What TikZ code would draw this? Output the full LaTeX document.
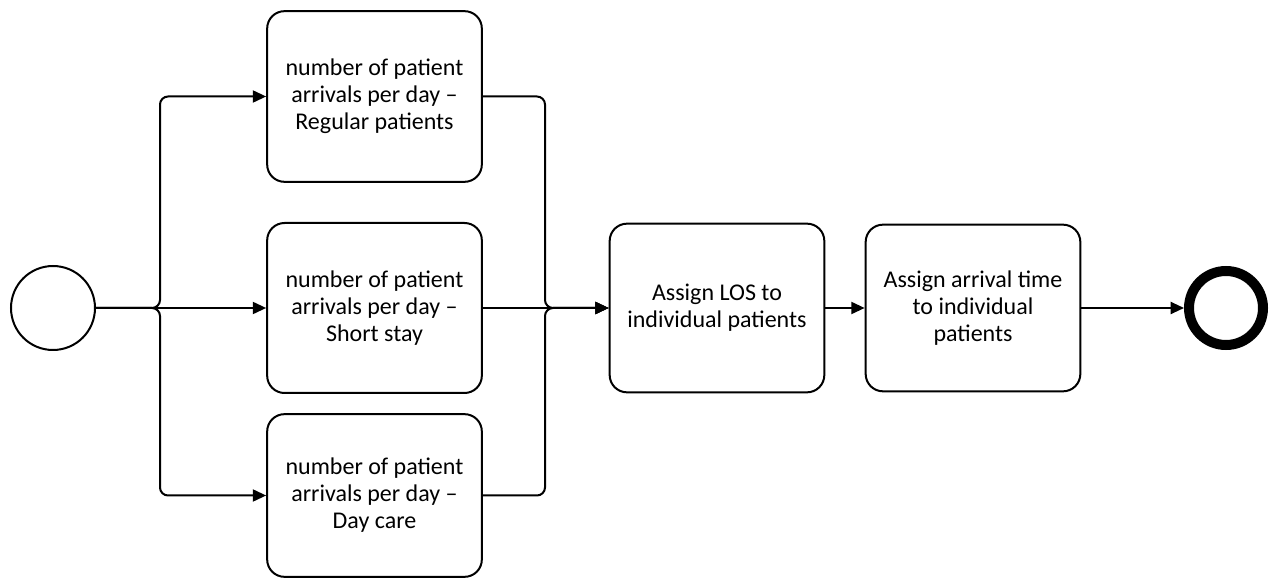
\documentclass[tikz,border=0pt]{standalone}
\usepackage{fontspec}
\setmainfont{Carlito}
\usetikzlibrary{arrows.meta}
\begin{document}
\begin{tikzpicture}[x=0.75pt,y=-0.75pt,
  task/.style={draw, line width=1.5pt, rounded corners=13pt, minimum width=161pt,
    align=center, inner sep=0pt, font=\fontsize{18}{20.3}\selectfont},
  flow/.style={line width=1.5pt, rounded corners=6pt, -{Triangle[length=10pt,width=9pt]}}]
\useasboundingbox (0,0) rectangle (1274,580);

% events
\node[draw, circle, line width=1.5pt, minimum size=63pt, inner sep=0pt] (start) at (53,308) {};
\node[draw, circle, line width=7.5pt, minimum size=55.5pt, inner sep=0pt] (end) at (1226,308) {};

% tasks
\node[task, minimum height=128pt] (regular) at (374.5,96.5)
  {number of patient\\arrivals per day \textendash\\Regular patients};
\node[task, minimum height=127.5pt] (short) at (374.5,308)
  {number of patient\\arrivals per day \textendash\\Short stay};
\node[task, minimum height=122pt] (daycare) at (374.5,495.5)
  {number of patient\\arrivals per day \textendash\\Day care};
\node[task, minimum height=126.5pt] (los) at (717,308)
  {Assign LOS to\\individual patients};
\node[task, minimum height=125pt] (arrival) at (973,308)
  {Assign arrival time\\to individual\\patients};

% split and join points
\coordinate (split) at (160,308);
\coordinate (join) at (545,308);

% connectors
\draw[flow] (start.east) -- (split) |- (regular.west);
\draw[flow] (start.east) -- (short.west);
\draw[flow] (start.east) -- (split) |- (daycare.west);
\draw[flow] (regular.east) -| (join) -- (los.west);
\draw[flow] (short.east) -- (los.west);
\draw[flow] (daycare.east) -| (join) -- (los.west);
\draw[flow] (los) -- (arrival);
\draw[flow] (arrival) -- (end);
\end{tikzpicture}
\end{document}
